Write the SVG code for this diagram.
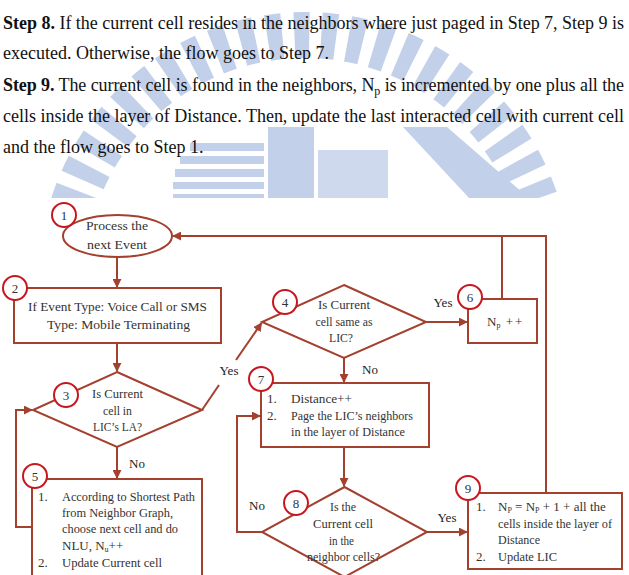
<svg xmlns="http://www.w3.org/2000/svg" width="629" height="575" viewBox="0 0 629 575">
<defs>
<style>
.para{font-family:"Liberation Serif","Times New Roman",serif;font-size:18px;fill:#111}
.t{font-family:"Liberation Serif","Times New Roman",serif;font-size:13px;fill:#333}
.lbl{font-family:"Liberation Serif","Times New Roman",serif;font-size:13px;fill:#222;text-anchor:middle}
.num{font-family:"Liberation Serif","Times New Roman",serif;font-size:13px;fill:#333;text-anchor:middle}
.shape{fill:#fff;stroke:#a3402e;stroke-width:2}
.badge{fill:#fff;stroke:#c8161d;stroke-width:2}
.conn{fill:none;stroke:#a3402e;stroke-width:2}
.wm{fill:#c2d0ea}
</style>
<marker id="ah" viewBox="0 0 10 10" refX="9" refY="5" markerWidth="4.5" markerHeight="4.5" orient="auto" markerUnits="strokeWidth">
<path d="M0,0 L10,5 L0,10 z" fill="#a3402e"/>
</marker>
<clipPath id="wmclip"><rect x="0" y="0" width="629" height="198"/></clipPath>
</defs>
<rect width="629" height="575" fill="#fff"/>
<g id="watermark" clip-path="url(#wmclip)">
<circle cx="305" cy="278" r="243" fill="none" stroke="#c2d0ea" stroke-width="46" stroke-dasharray="15 12"/>
<rect class="wm" x="190" y="143" width="74" height="8"/>
<rect class="wm" x="180" y="156" width="84" height="8"/>
<rect class="wm" x="175" y="169" width="89" height="8"/>
<rect class="wm" x="173" y="182" width="91" height="7"/>
<rect class="wm" x="173" y="194" width="91" height="5"/>
<rect class="wm" x="268" y="127" width="46" height="72"/>
<rect class="wm" x="318" y="150" width="70" height="49" opacity="0.8"/>
<polygon class="wm" points="403,127 447,127 530,199 470,199"/>
</g>
<g id="paragraph">
<text class="para" x="3" y="29" textLength="621" lengthAdjust="spacing"><tspan font-weight="bold">Step 8.</tspan> If the current cell resides in the neighbors where just paged in Step 7, Step 9 is</text>
<text class="para" x="3" y="59">executed. Otherwise, the flow goes to Step 7.</text>
<text class="para" x="3" y="91" textLength="621" lengthAdjust="spacing"><tspan font-weight="bold">Step 9.</tspan> The current cell is found in the neighbors, N<tspan font-size="12" dy="4">p</tspan><tspan dy="-4"> is incremented by one plus all the</tspan></text>
<text class="para" x="3" y="122" textLength="621" lengthAdjust="spacing">cells inside the layer of Distance. Then, update the last interacted cell with current cell</text>
<text class="para" x="3" y="153">and the flow goes to Step 1.</text>
</g>
<g id="connectors">
<path class="conn" d="M117 257 V287" marker-end="url(#ah)"/>
<path class="conn" d="M117 343 V371" marker-end="url(#ah)"/>
<path class="conn" d="M117 447 V478" marker-end="url(#ah)"/>
<path class="conn" d="M32 527 H16 V410 H32" marker-end="url(#ah)"/>
<path class="conn" d="M202 410 L219 385"/>
<path class="conn" d="M236 360 L261.5 323" marker-end="url(#ah)"/>
<path class="conn" d="M426 322 H467" marker-end="url(#ah)"/>
<path class="conn" d="M344 358 V382" marker-end="url(#ah)"/>
<path class="conn" d="M344 447 V486" marker-end="url(#ah)"/>
<path class="conn" d="M262 532 H237 V416 H260" marker-end="url(#ah)"/>
<path class="conn" d="M427 532 H467" marker-end="url(#ah)"/>
<path class="conn" d="M546 493 V236 H173" marker-end="url(#ah)"/>
<path class="conn" d="M502 299 V236"/>
<text class="lbl" x="229" y="375">Yes</text>
<text class="lbl" x="137" y="468">No</text>
<text class="lbl" x="443" y="307">Yes</text>
<text class="lbl" x="370" y="374">No</text>
<text class="lbl" x="257" y="510">No</text>
<text class="lbl" x="447" y="522">Yes</text>
</g>
<g id="node1">
<ellipse class="shape" cx="117.5" cy="236" rx="54.5" ry="21"/>
<text class="t" x="86" y="230" textLength="62" lengthAdjust="spacingAndGlyphs">Process the</text>
<text class="t" x="87" y="249" textLength="60" lengthAdjust="spacingAndGlyphs">next Event</text>
<circle class="badge" cx="64" cy="215" r="12"/>
<text class="num" x="64" y="219.5">1</text>
</g>
<g id="node2">
<rect class="shape" x="14" y="288" width="207" height="55"/>
<text class="t" x="28" y="311" textLength="179" lengthAdjust="spacingAndGlyphs">If Event Type: Voice Call or SMS</text>
<text class="t" x="47" y="329" textLength="143" lengthAdjust="spacingAndGlyphs">Type: Mobile Terminating</text>
<circle class="badge" cx="15" cy="288" r="12"/>
<text class="num" x="15" y="292.5">2</text>
</g>
<g id="node3">
<polygon class="shape" points="117,372 202,410 117,447 33,410"/>
<text class="t" x="117.5" y="398" text-anchor="middle" textLength="51" lengthAdjust="spacingAndGlyphs">Is Current</text>
<text class="t" x="117.5" y="415" text-anchor="middle" textLength="29" lengthAdjust="spacingAndGlyphs">cell in</text>
<text class="t" x="117.5" y="431" text-anchor="middle" textLength="49" lengthAdjust="spacingAndGlyphs">LIC’s LA?</text>
<circle class="badge" cx="66" cy="395" r="12"/>
<text class="num" x="66" y="399.5">3</text>
</g>
<g id="node4">
<polygon class="shape" points="344,285 426,322 344,358 262,322"/>
<text class="t" x="344" y="309" text-anchor="middle" textLength="52" lengthAdjust="spacingAndGlyphs">Is Current</text>
<text class="t" x="344" y="326" text-anchor="middle" textLength="57" lengthAdjust="spacingAndGlyphs">cell same as</text>
<text class="t" x="341" y="342" text-anchor="middle" textLength="24" lengthAdjust="spacingAndGlyphs">LIC?</text>
<circle class="badge" cx="285" cy="302" r="12"/>
<text class="num" x="285" y="306.5">4</text>
</g>
<g id="node5">
<rect class="shape" x="32" y="479" width="170" height="110"/>
<text class="t" x="38" y="501">1.</text>
<text class="t" x="62" y="501" textLength="133" lengthAdjust="spacingAndGlyphs">According to Shortest Path</text>
<text class="t" x="62" y="517" textLength="111" lengthAdjust="spacingAndGlyphs">from Neighbor Graph,</text>
<text class="t" x="62" y="533" textLength="116" lengthAdjust="spacingAndGlyphs">choose next cell and do</text>
<text class="t" x="62" y="550">NLU, N<tspan font-size="8" dy="2">u</tspan><tspan dy="-2">++</tspan></text>
<text class="t" x="38" y="567">2.</text>
<text class="t" x="62" y="567" textLength="100" lengthAdjust="spacingAndGlyphs">Update Current cell</text>
<circle class="badge" cx="35" cy="476" r="12"/>
<text class="num" x="35" y="480.5">5</text>
</g>
<g id="node6">
<rect class="shape" x="468" y="299" width="69" height="44"/>
<text class="t" x="487" y="326">N<tspan font-size="8" dy="2">p</tspan><tspan dy="-2" letter-spacing="2"> ++</tspan></text>
<circle class="badge" cx="470" cy="297" r="12"/>
<text class="num" x="470" y="301.5">6</text>
</g>
<g id="node7">
<rect class="shape" x="261" y="383" width="168" height="64"/>
<text class="t" x="267" y="403">1.</text>
<text class="t" x="291" y="403" textLength="61" lengthAdjust="spacingAndGlyphs">Distance++</text>
<text class="t" x="267" y="420">2.</text>
<text class="t" x="291" y="420" textLength="122" lengthAdjust="spacingAndGlyphs">Page the LIC’s neighbors</text>
<text class="t" x="291" y="436" textLength="114" lengthAdjust="spacingAndGlyphs">in the layer of Distance</text>
<circle class="badge" cx="261" cy="379" r="12"/>
<text class="num" x="261" y="383.5">7</text>
</g>
<g id="node8">
<polygon class="shape" points="344.5,487 427,532 344.5,577 262,532"/>
<text class="t" x="343" y="511" text-anchor="middle" textLength="26" lengthAdjust="spacingAndGlyphs">Is the</text>
<text class="t" x="343" y="528" text-anchor="middle" textLength="60" lengthAdjust="spacingAndGlyphs">Current cell</text>
<text class="t" x="341.5" y="545" text-anchor="middle" textLength="25" lengthAdjust="spacingAndGlyphs">in the</text>
<text class="t" x="343.5" y="561" text-anchor="middle" textLength="73" lengthAdjust="spacingAndGlyphs">neighbor cells?</text>
<circle class="badge" cx="296" cy="503" r="12"/>
<text class="num" x="296" y="507.5">8</text>
</g>
<g id="node9">
<rect class="shape" x="468" y="493" width="154" height="76"/>
<text class="t" x="476" y="511">1.</text>
<text class="t" x="498" y="511">N<tspan font-size="8" dy="2">P</tspan><tspan dy="-2"> = N</tspan><tspan font-size="8" dy="2">P</tspan><tspan dy="-2"> + 1 + all the</tspan></text>
<text class="t" x="498" y="528" textLength="114" lengthAdjust="spacingAndGlyphs">cells inside the layer of</text>
<text class="t" x="498" y="544" textLength="42" lengthAdjust="spacingAndGlyphs">Distance</text>
<text class="t" x="476" y="561">2.</text>
<text class="t" x="498" y="561" textLength="59" lengthAdjust="spacingAndGlyphs">Update LIC</text>
<circle class="badge" cx="468" cy="488" r="12"/>
<text class="num" x="468" y="492.5">9</text>
</g>
</svg>
